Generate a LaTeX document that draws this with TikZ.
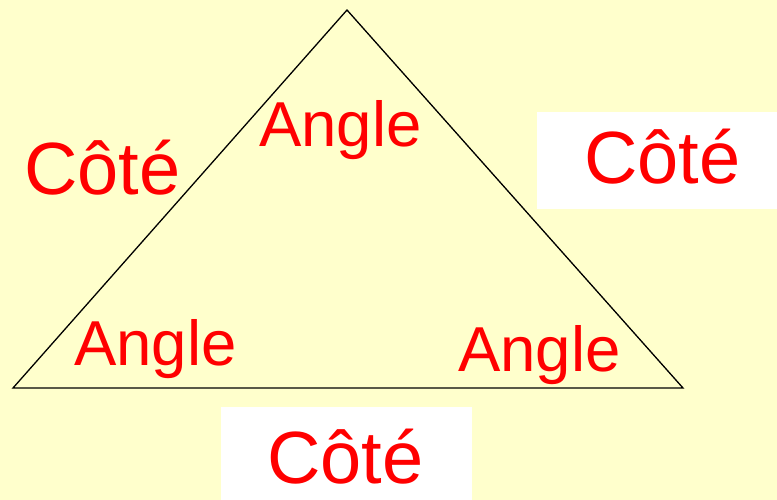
\documentclass[tikz,border=0pt]{standalone}
\usepackage{fontspec}
\setmainfont{Liberation Sans}
\definecolor{bgyellow}{HTML}{FFFFCC}
\definecolor{txtred}{HTML}{FF0000}
\tikzset{
  cote/.style={inner sep=0pt, anchor=base west, text=txtred, font=\fontsize{74}{82}\selectfont},
  angl/.style={inner sep=0pt, anchor=base west, text=txtred, font=\fontsize{63.5}{70}\selectfont},
  whitebox/.style={fill=white, draw=none},
  edge/.style={draw=black, line width=1.3pt, line join=miter}
}
\begin{document}
\begin{tikzpicture}[x=1pt,y=-1pt]
\fill[bgyellow] (0,0) rectangle (777,500);
\useasboundingbox (0,0) rectangle (777,500);
% white boxes
\fill[whitebox] (537,112) rectangle (777,209);
\fill[whitebox] (221,407) rectangle (472,500);
% triangle
\coordinate (T) at (347,10);
\coordinate (L) at (13,388);
\coordinate (R) at (683,388);
\draw[edge] (T) -- (L) -- (R) -- cycle;
% labels
\node[cote] (c1) at (24,194) {Côté};
\node[cote] (c2) at (584,184) {Côté};
\node[cote] (c3) at (267,483) {Côté};
\node[angl] (a1) at (259,147) {Angle};
\node[angl] (a2) at (74,365) {Angle};
\node[angl] (a3) at (458,371) {Angle};
\end{tikzpicture}
\end{document}
